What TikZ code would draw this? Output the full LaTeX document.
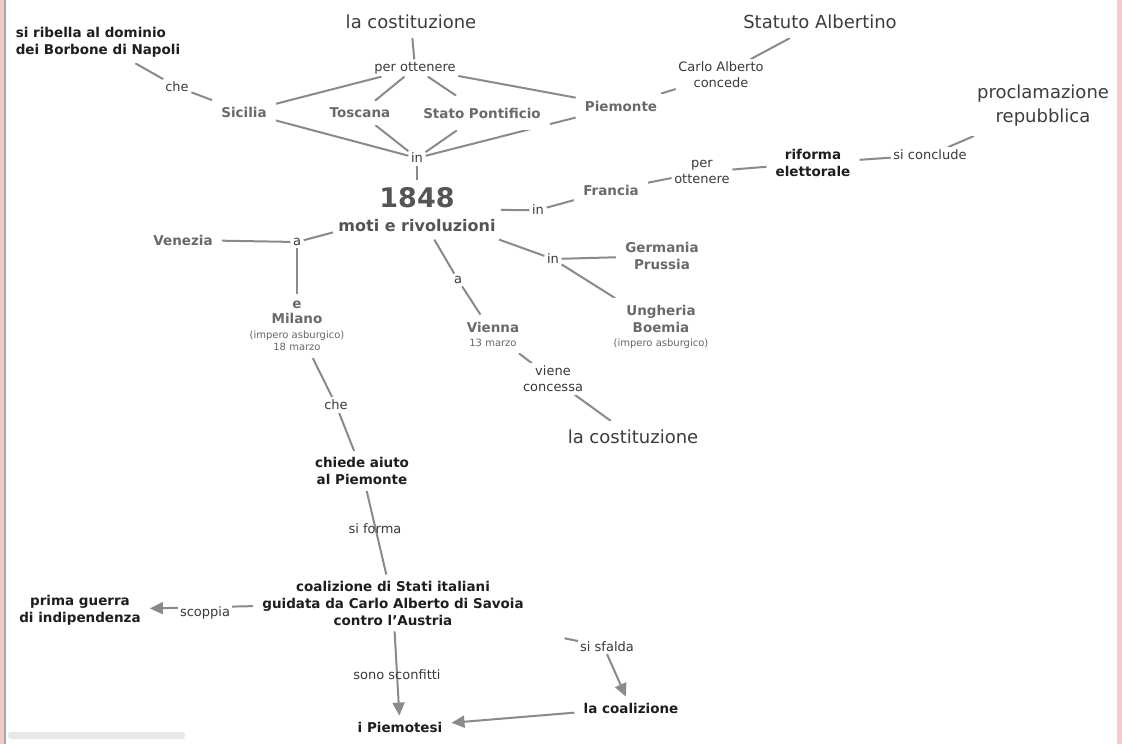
\documentclass[tikz,border=0pt]{standalone}
\usepackage{fontspec}
\setmainfont{DejaVu Sans}
\usetikzlibrary{arrows.meta,backgrounds,fit}
\definecolor{lnc}{HTML}{8A8A8A}
\definecolor{gtx}{HTML}{6A6A6A}
\definecolor{ktx}{HTML}{1E1E1E}
\definecolor{btx}{HTML}{3D3D3D}
\definecolor{ltx}{HTML}{3A3A3A}
\definecolor{stx}{HTML}{666666}
\definecolor{yrc}{HTML}{555555}
\definecolor{pinkb}{HTML}{F4CACA}
\newcommand{\myB}{\fontsize{13.5}{17}\selectfont\bfseries}
\newcommand{\myS}{\fontsize{10}{12}\selectfont\mdseries}
\begin{document}
\begin{tikzpicture}[x=1pt,y=-1pt,
  gnode/.style={font=\myB, text=gtx, fill=white, inner xsep=9pt, inner ysep=7pt, align=center},
  knode/.style={font=\myB, text=ktx, fill=white, inner xsep=9pt, inner ysep=6pt, align=center},
  bignode/.style={font=\fontsize{18}{24}\selectfont, text=btx, fill=white, inner xsep=6pt, inner ysep=9pt, align=center},
  lbl/.style={font=\fontsize{13}{16}\selectfont, text=ltx, fill=white, inner sep=2.5pt, align=center},
  lblt/.style={font=\fontsize{13}{16}\selectfont, text=ltx, inner sep=2pt, align=center},
  conn/.style={draw=lnc, line width=2pt},
  arr/.style={conn, -{Triangle[length=13pt,width=12pt]}}]
\useasboundingbox (0,0) rectangle (1122,744);

% nodes
\node[knode, align=left] (borb) at (98,42) {si ribella al dominio\\dei Borbone di Napoli};
\node[lbl] (che1) at (177,87) {che};
\node[gnode] (sic) at (244,112) {Sicilia};
\node[bignode] (cost1) at (411,22) {la costituzione};
\node[lbl] (perott) at (415,68) {per ottenere};
\node[gnode] (tosc) at (360,113) {Toscana};
\node[gnode, inner ysep=12pt] (stato) at (482,113) {Stato Pontificio};
\node[gnode] (piem) at (621,106) {Piemonte};
\node[lbl] (in1) at (417,158) {in};
\node[lbl] (ca) at (721,75) {Carlo Alberto\\concede};
\node[bignode] (stat) at (820,22) {Statuto Albertino};

\node[font=\fontsize{27}{30}\selectfont\bfseries, text=yrc, inner sep=1pt] (y48) at (417,198) {1848};
\node[font=\fontsize{16}{19}\selectfont\bfseries, text=yrc, inner sep=1pt] (moti) at (417,226) {moti e rivoluzioni};
\node[fit=(y48)(moti), inner xsep=4pt, inner ysep=6pt] (main) {};

\node[lbl] (in2) at (538,210) {in};
\node[gnode] (fran) at (611,190) {Francia};
\node[lbl] (po2) at (702,172) {per\\ottenere};
\node[knode] (rif) at (813,163) {riforma\\elettorale};
\node[lbl] (scon) at (930,155) {si conclude};
\node[bignode] (procl) at (1043,106) {proclamazione\\repubblica};

\node[gnode] (ven) at (183,240) {Venezia};
\node[lbl] (a2) at (297,242) {a};
\node[gnode, font=\fontsize{13.5}{15}\selectfont\bfseries] (mil) at (297,326) {e\\Milano\\{\myS\color{stx}(impero asburgico)}\\[-3pt]{\myS\color{stx}18 marzo}};
\node[lbl] (che2) at (336,405) {che};
\node[knode] (chiede) at (362,471) {chiede aiuto\\al Piemonte};

\node[lbl] (a3) at (458,280) {a};
\node[gnode] (vienna) at (493,334) {Vienna\\[-3pt]{\myS\color{stx}13 marzo}};
\node[lbl] (vc) at (553,379) {viene\\concessa};
\node[bignode] (cost2) at (633,437) {la costituzione};

\node[lbl] (in3) at (553,259) {in};
\node[gnode] (germ) at (662,256) {Germania\\Prussia};
\node[gnode] (ungh) at (661,327) {Ungheria\\Boemia\\[-3pt]{\myS\color{stx}(impero asburgico)}};

\node[lblt] (sif) at (375,529) {si forma};
\node[knode] (coal) at (393,603) {coalizione di Stati italiani\\guidata da Carlo Alberto di Savoia\\contro l'Austria};
\node[knode] (prima) at (80,610) {prima guerra\\di indipendenza};
\node[lbl] (scop) at (205,613) {scoppia};
\node[lblt] (sono) at (397,675) {sono sconfitti};
\node[knode] (piemo) at (400,727) {i Piemotesi};
\node[lblt] (sfal) at (607,647) {si sfalda};
\node[knode] (lacoal) at (631,708) {la coalizione};

\begin{scope}[on background layer]
  \fill[white] (0,0) rectangle (1122,744);
  \fill[pinkb] (0,0) rectangle (4,744);
  \fill[pinkb] (1117,0) rectangle (1122,744);
  \draw[gray!70, line width=1.5pt] (5,0) -- (5,744);
  \fill[gray!18, rounded corners=3pt] (8,732) rectangle (185,739);

  \draw[conn] (borb) -- (che1);
  \draw[conn] (che1) -- (sic);
  \draw[conn] (cost1) -- (perott);
  \draw[conn] (sic) -- (perott);
  \draw[conn] (tosc) -- (perott);
  \draw[conn] (stato) -- (perott);
  \draw[conn] (perott) -- (piem);
  \draw[conn] (sic) -- (in1);
  \draw[conn] (tosc) -- (in1);
  \draw[conn] (stato) -- (in1);
  \draw[conn] (piem) -- (in1);
  \draw[conn] (in1) -- (main);
  \draw[conn] (piem) -- (ca);
  \draw[conn] (ca) -- (stat);

  \draw[conn] (main) -- (in2);
  \draw[conn] (in2) -- (fran);
  \draw[conn] (fran) -- (po2);
  \draw[conn] (po2) -- (rif);
  \draw[conn] (rif) -- (scon);
  \draw[conn] (scon) -- (procl);

  \draw[conn] (ven) -- (a2);
  \draw[conn] (a2) -- (main);
  \draw[conn] (a2) -- (mil);
  \draw[conn] (mil) -- (che2);
  \draw[conn] (che2) -- (chiede);

  \draw[conn] (main) -- (a3);
  \draw[conn] (a3) -- (vienna);
  \draw[conn] (vienna) -- (vc);
  \draw[conn] (vc) -- (cost2);

  \draw[conn] (main) -- (in3);
  \draw[conn] (in3) -- (germ);
  \draw[conn] (in3) -- (ungh);

  \draw[conn] (chiede) -- (coal);
  \draw[arr] (coal) -- (prima);
  \draw[arr] (coal) -- (piemo);
  \draw[conn, shorten <=34pt] (coal) -- (sfal);
  \draw[arr] (sfal.south) -- (lacoal);
  \draw[arr] (lacoal) -- (piemo);
\end{scope}
\end{tikzpicture}
\end{document}
